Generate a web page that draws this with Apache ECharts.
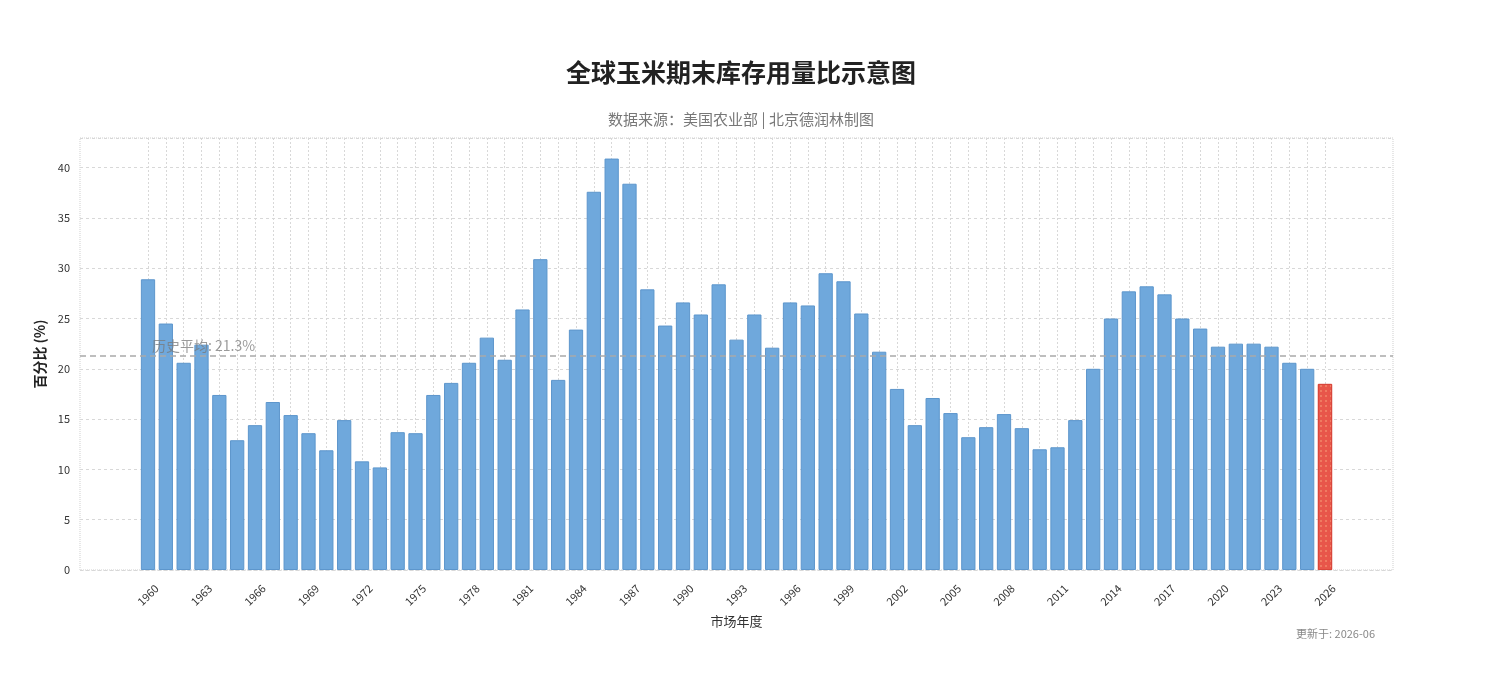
<!DOCTYPE html>
<html>
<head>
<meta charset="utf-8">
<title>全球玉米期末库存用量比示意图</title>
<script src="https://cdn.jsdelivr.net/npm/echarts@6/dist/echarts.min.js"></script>
<style>
  html, body { margin: 0; padding: 0; background: #fff; }
  #chart { width: 1503px; height: 674px; }
</style>
</head>
<body>
<div id="chart"></div>
<script type="text/javascript">
var years = [];
for (var y = 1960; y <= 2026; y++) years.push(String(y));

// 期末库存/用量 (%)
var ratios = [
  28.9, 24.5, 20.6, 22.4, 17.4, 12.9, 14.4, 16.7, 15.4, 13.6,
  11.9, 14.9, 10.8, 10.2, 13.7, 13.6, 17.4, 18.6, 20.6, 23.1,
  20.9, 25.9, 30.9, 18.9, 23.9, 37.6, 40.9, 38.4, 27.9, 24.3,
  26.6, 25.4, 28.4, 22.9, 25.4, 22.1, 26.6, 26.3, 29.5, 28.7,
  25.5, 21.7, 18.0, 14.4, 17.1, 15.6, 13.2, 14.2, 15.5, 14.1,
  12.0, 12.2, 14.9, 20.0, 25.0, 27.7, 28.2, 27.4, 25.0, 24.0,
  22.2, 22.5, 22.5, 22.2, 20.6, 20.0, 18.5
];
var forecastYears = ['2026'];

var sum = 0;
for (var i = 0; i < ratios.length; i++) sum += ratios[i];
var avg = Math.round(sum / ratios.length * 10) / 10;
var yMax = Math.max.apply(null, ratios) * 1.05;

var barData = ratios.map(function (v, i) {
  if (forecastYears.indexOf(years[i]) >= 0) {
    return {
      value: v,
      itemStyle: {
        color: '#e8564a',
        borderColor: '#d9463b',
        decal: {
          symbol: 'circle',
          symbolSize: 0.8,
          color: 'rgba(255,200,150,0.75)',
          dashArrayX: [2, 3],
          dashArrayY: [2, 3],
          rotation: 0
        }
      }
    };
  }
  return v;
});

var font = '"Noto Sans CJK SC", "Noto Sans", sans-serif';
var chart = echarts.init(document.getElementById('chart'));

chart.setOption({
  textStyle: { fontFamily: font },
  animation: false,
  title: [{
    text: '全球玉米期末库存用量比示意图',
    subtext: '数据来源：美国农业部 | 北京德润林制图',
    left: 736,
    top: 55,
    textAlign: 'center',
    itemGap: 27,
    textStyle: { fontSize: 25, fontWeight: 'bold', color: '#222', fontFamily: font },
    subtextStyle: { fontSize: 15, color: '#777', fontFamily: font }
  }, {
    text: '更新于: 2026-06',
    right: 123,
    top: 623,
    textStyle: { fontSize: 11, fontWeight: 'normal', color: '#888', fontFamily: font }
  }],
  grid: [
    // frame
    { left: 80, right: 110, top: 138, bottom: 104, show: true,
      borderColor: '#cfcfcf', borderWidth: 1, borderType: 'dotted' },
    // bars, from 1960 centre to 2026 centre
    { left: 148, right: 178, top: 138, bottom: 104 }
  ],
  xAxis: [{
    type: 'value', gridIndex: 0, min: 0, max: 1,
    axisLabel: { show: false }, axisTick: { show: false },
    axisLine: { show: false }, splitLine: { show: false },
    name: '市场年度', nameLocation: 'middle', nameGap: 45,
    nameTextStyle: { fontSize: 13, color: '#333' }
  }, {
    type: 'category', gridIndex: 1, data: years, boundaryGap: false,
    axisTick: { show: false }, axisLine: { show: false },
    axisLabel: {
      interval: 2, rotate: 45, fontSize: 11, color: '#333',
      align: 'center', verticalAlign: 'middle', margin: 25
    },
    splitLine: { show: true, interval: 0,
      lineStyle: { color: '#d8d8d8', type: [2, 2], width: 1 } }
  }],
  yAxis: [{
    type: 'value', gridIndex: 0, min: 0, max: yMax, interval: 5,
    axisLine: { show: false }, axisTick: { show: false },
    axisLabel: { fontSize: 11, color: '#333', margin: 10, showMaxLabel: false },
    splitLine: { lineStyle: { color: '#d8d8d8', type: [3, 3], width: 1 } },
    name: '百分比 (%)', nameLocation: 'middle', nameGap: 21,
    nameTextStyle: { fontSize: 14, fontWeight: 'bold', color: '#222' }
  }, {
    type: 'value', gridIndex: 1, min: 0, max: yMax, show: false
  }],
  series: [{
    type: 'bar',
    xAxisIndex: 1, yAxisIndex: 1,
    data: barData,
    barWidth: '80%',
    itemStyle: { color: '#6fa8dc', borderColor: '#5d96cc', borderWidth: 1 }
  }, {
    type: 'line',
    xAxisIndex: 0, yAxisIndex: 0,
    data: [],
    markLine: {
      silent: true,
      symbol: 'none',
      lineStyle: { color: '#a9a9a9', type: [6, 4], width: 1.5 },
      label: {
        position: 'insideStartTop',
        distance: [72, 3],
        formatter: '历史平均: ' + avg + '%',
        fontSize: 14,
        color: 'rgba(120,120,120,0.75)'
      },
      data: [{ yAxis: avg }]
    }
  }]
});
</script>
</body>
</html>
